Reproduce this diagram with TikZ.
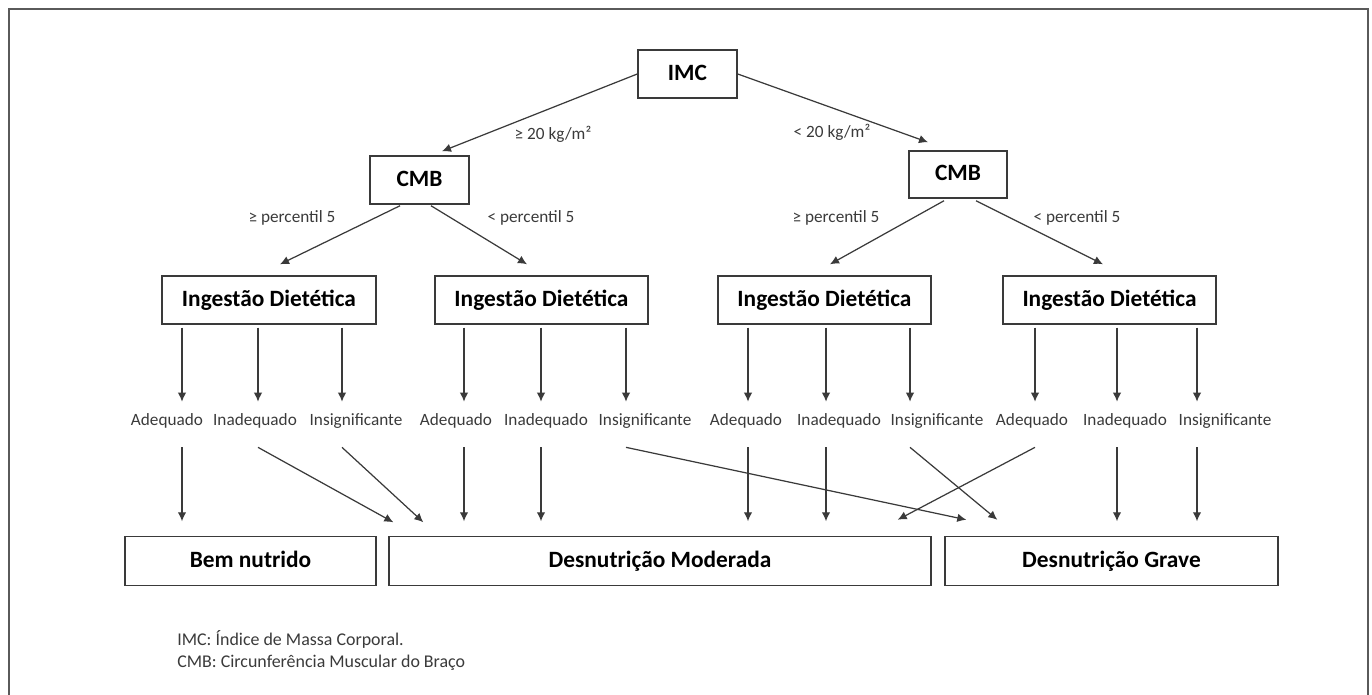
\documentclass[tikz,border=0pt]{standalone}
\usepackage{fontspec}
\setmainfont{Carlito}
\usetikzlibrary{arrows.meta,calc}
\definecolor{linegray}{HTML}{3A3A3A}
\definecolor{framegray}{HTML}{5A5A5A}
\begin{document}
\begin{tikzpicture}[x=0.02cm,y=-0.02cm,
	box/.style={draw=linegray,line width=0.85pt,minimum height=0.96cm,inner sep=0pt,text height=9.4pt,text depth=2.4pt,font=\fontsize{13.3}{16}\selectfont\bfseries},
	opt/.style={inner sep=0pt,minimum height=0.4cm,text height=7pt,text depth=1.8pt,text=linegray,font=\fontsize{9.8}{12}\selectfont},
	arr/.style={-{Latex[length=1.8mm,width=1.7mm]},draw=linegray,line width=0.7pt}]

	\useasboundingbox (0,0) rectangle (1372,695);
	\draw[framegray,line width=1pt] (9,720) -- (9,9) -- (1368,9) -- (1368,720);

	% top of the tree
	\node[box,minimum width=1.98cm] (imc) at (687.5,74) {IMC};
	\node[box,minimum width=1.98cm] (cmbl) at (419.5,180) {CMB};
	\node[box,minimum width=1.96cm,minimum height=0.94cm] (cmbr) at (958,174.5) {CMB};
	\draw[arr] (imc.west) -- ($(cmbl.north)+(22.5,-4)$);
	\draw[arr] (imc.east) -- ($(cmbr.north)+(-30,-8)$);
	\node[opt] (ge20) at (553,135) {≥ 20 kg/m²};
	\node[opt] (lt20) at (832,133) {< 20 kg/m²};

	\node[box,minimum width=4.28cm] (ing1) at (269,300) {Ingestão Dietética};
	\node[box,minimum width=4.26cm] (ing2) at (541.5,300) {Ingestão Dietética};
	\node[box,minimum width=4.26cm] (ing3) at (824.5,300) {Ingestão Dietética};
	\node[box,minimum width=4.26cm] (ing4) at (1109.5,300) {Ingestão Dietética};

	\draw[arr] ($(cmbl.south)+(-19.5,1)$) -- ($(ing1.north)+(11,-11)$);
	\draw[arr] ($(cmbl.south)+(11.5,1)$) -- ($(ing2.north)+(-14.5,-11)$);
	\draw[arr] ($(cmbr.south)+(-14,2)$) -- ($(ing3.north)+(5.5,-11)$);
	\draw[arr] ($(cmbr.south)+(18,2)$) -- ($(ing4.north)+(-6.5,-11)$);
	\node[opt] (pl1) at (292,218) {≥ percentil 5};
	\node[opt] (pl2) at (531,218) {< percentil 5};
	\node[opt] (pr1) at (836,218) {≥ percentil 5};
	\node[opt] (pr2) at (1077,218) {< percentil 5};

	% intake levels
	\foreach \k/\xa/\xb/\xc in {1/167/255/356,2/456/546/645,3/746/839/937,4/1032/1125/1225}{
		\node[opt] (ad\k) at (\xa,421) {Adequado};
		\node[opt] (in\k) at (\xb,421) {Inadequado};
		\node[opt] (is\k) at (\xc,421) {Insignificante};
	}
	\foreach \l/\dx in {ad1/15,in1/3,is1/-14,ad2/8,in2/-5,is2/-19,ad3/2,in3/-13,is3/-27,ad4/3,in4/-8,is4/-28}
		\coordinate (x\l) at ($(\l)+(\dx,0)$);
	\foreach \k in {1,...,4}
		\foreach \l in {ad,in,is}
			\draw[arr,shorten <=0.06cm,shorten >=0.18cm] (x\l\k |- ing\k.south) -- (x\l\k |- \l\k.north);

	% outcomes
	\node[box,minimum width=5.02cm,minimum height=0.98cm] (bem) at (250.5,561) {Bem nutrido};
	\node[box,minimum width=10.84cm,minimum height=0.98cm] (mod) at (660,561) {Desnutrição Moderada};
	\node[box,minimum width=6.66cm,minimum height=0.98cm] (grave) at (1111.5,561) {Desnutrição Grave};

	\foreach \l/\t in {ad1/bem,ad2/mod,in2/mod,ad3/mod,in3/mod,in4/grave,is4/grave}
		\draw[arr,shorten <=0.32cm,shorten >=0.29cm] (x\l |- \l.south) -- (x\l |- \t.north);
	\draw[arr] ($(xin1 |- in1.south)+(0,16)$) -- ($(mod.north west)+(5,-13.5)$);
	\draw[arr] ($(xis1 |- is1.south)+(0,16)$) -- ($(mod.north west)+(35,-13.5)$);
	\draw[arr] ($(xis2 |- is2.south)+(0,16)$) -- ($(grave.north west)+(22,-16)$);
	\draw[arr] ($(xis3 |- is3.south)+(0,16)$) -- ($(grave.north west)+(53,-16)$);
	\draw[arr] ($(xad4 |- ad4.south)+(0,16)$) -- ($(mod.north east)+(-34,-16)$);

	\node[anchor=west,inner sep=0pt,text=linegray,font=\fontsize{10.2}{12}\selectfont] (leg1) at (177,639) {IMC: Índice de Massa Corporal.};
	\node[anchor=west,inner sep=0pt,text=linegray,font=\fontsize{10.2}{12}\selectfont] (leg2) at (177,663) {CMB: Circunferência Muscular do Braço};

\end{tikzpicture}
\end{document}
